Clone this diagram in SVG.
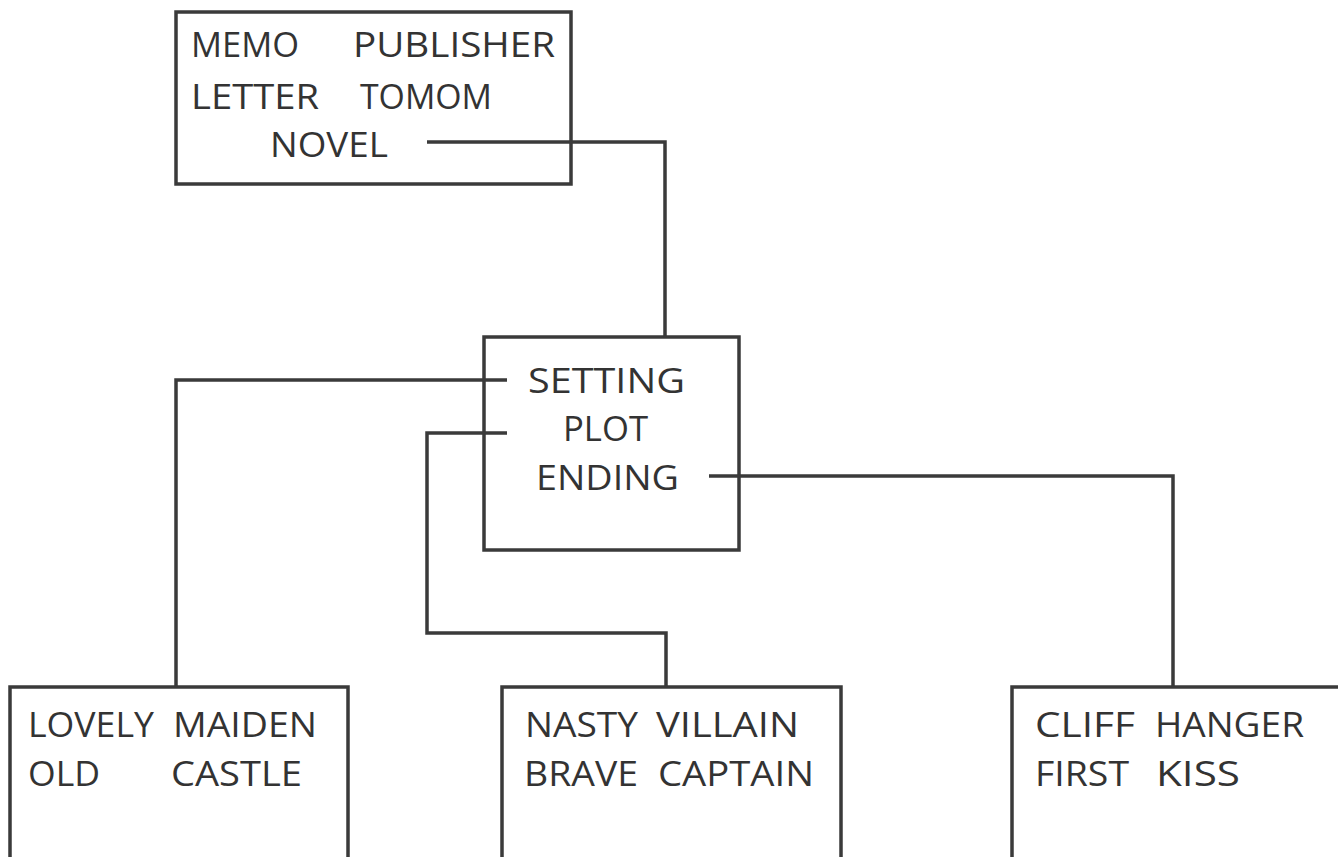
<svg xmlns="http://www.w3.org/2000/svg" width="1338" height="857" viewBox="0 0 1338 857">
<style>
.box{fill:none;stroke:#3a3a3a;stroke-width:3.5}
.wire{fill:none;stroke:#3a3a3a;stroke-width:3.5}
text{font-family:"Open Sans","Noto Sans","Liberation Sans",sans-serif;font-size:35px;fill:#333}
</style>
<rect width="1338" height="857" fill="#fff"/>
<g id="node-top">
<rect class="box" x="176" y="12" width="395" height="172"/>
<text x="191" y="57" textLength="108" lengthAdjust="spacingAndGlyphs">MEMO</text>
<text x="353" y="57" textLength="202" lengthAdjust="spacingAndGlyphs">PUBLISHER</text>
<text x="191" y="109" textLength="128" lengthAdjust="spacingAndGlyphs">LETTER</text>
<text x="360" y="109" textLength="132" lengthAdjust="spacingAndGlyphs">TOMOM</text>
<text x="270" y="157" textLength="118" lengthAdjust="spacingAndGlyphs">NOVEL</text>
</g>
<g id="node-mid">
<rect class="box" x="484" y="337" width="255" height="213"/>
<text x="528" y="393" textLength="157" lengthAdjust="spacingAndGlyphs">SETTING</text>
<text x="563" y="441" textLength="85" lengthAdjust="spacingAndGlyphs">PLOT</text>
<text x="536" y="490" textLength="143" lengthAdjust="spacingAndGlyphs">ENDING</text>
</g>
<g id="node-setting">
<rect class="box" x="10" y="687" width="338" height="190"/>
<text x="28" y="737" textLength="126" lengthAdjust="spacingAndGlyphs">LOVELY</text>
<text x="173" y="737" textLength="144" lengthAdjust="spacingAndGlyphs">MAIDEN</text>
<text x="28" y="786" textLength="72" lengthAdjust="spacingAndGlyphs">OLD</text>
<text x="171" y="786" textLength="131" lengthAdjust="spacingAndGlyphs">CASTLE</text>
</g>
<g id="node-plot">
<rect class="box" x="502" y="687" width="339" height="190"/>
<text x="525" y="737" textLength="113" lengthAdjust="spacingAndGlyphs">NASTY</text>
<text x="656" y="737" textLength="143" lengthAdjust="spacingAndGlyphs">VILLAIN</text>
<text x="524" y="786" textLength="114" lengthAdjust="spacingAndGlyphs">BRAVE</text>
<text x="658" y="786" textLength="156" lengthAdjust="spacingAndGlyphs">CAPTAIN</text>
</g>
<g id="node-ending">
<rect class="box" x="1012" y="687" width="360" height="190"/>
<text x="1035" y="737" textLength="100" lengthAdjust="spacingAndGlyphs">CLIFF</text>
<text x="1155" y="737" textLength="149" lengthAdjust="spacingAndGlyphs">HANGER</text>
<text x="1035" y="786" textLength="94" lengthAdjust="spacingAndGlyphs">FIRST</text>
<text x="1156" y="786" textLength="84" lengthAdjust="spacingAndGlyphs">KISS</text>
</g>
<g id="connectors">
<polyline class="wire" points="427,142 665,142 665,337"/>
<polyline class="wire" points="507,380 176,380 176,687"/>
<polyline class="wire" points="507,433 427,433 427,633 666,633 666,687"/>
<polyline class="wire" points="709,476 1173,476 1173,687"/>
</g>
</svg>
